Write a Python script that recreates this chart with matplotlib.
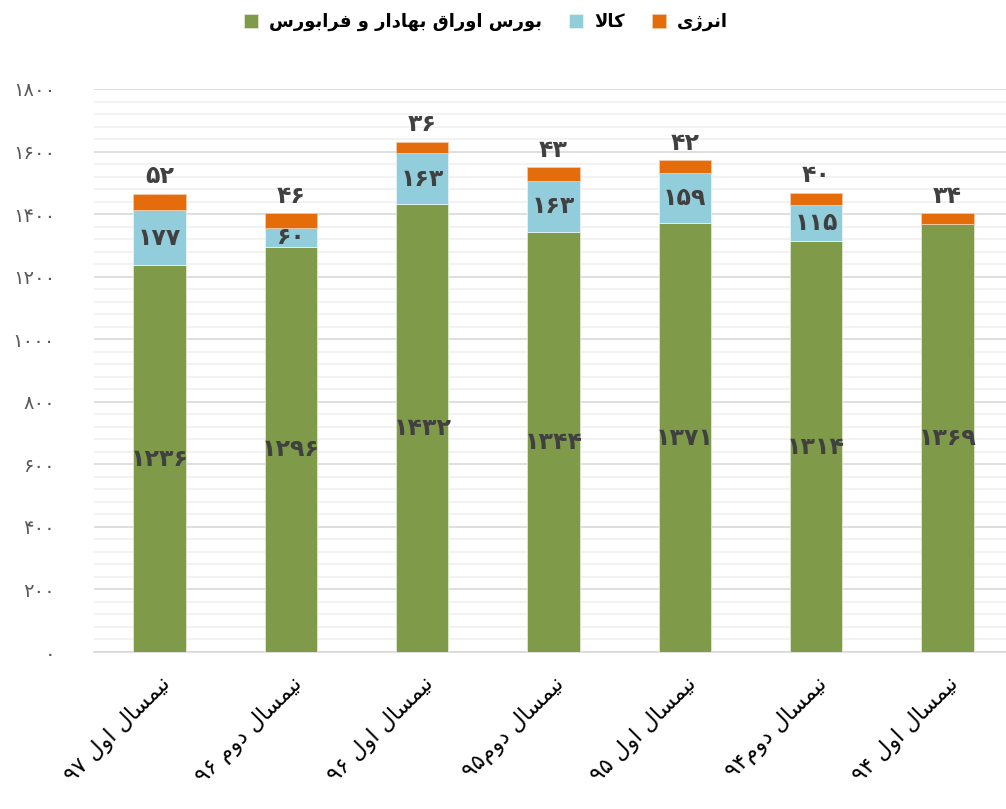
import re
import numpy as np
import matplotlib
matplotlib.use("Agg")
import matplotlib.pyplot as plt
from matplotlib.ticker import MultipleLocator

# data
categories = ['نیمسال اول ۹۷', 'نیمسال دوم ۹۶', 'نیمسال اول ۹۶', 'نیمسال دوم۹۵',
              'نیمسال اول ۹۵', 'نیمسال دوم۹۴', 'نیمسال اول ۹۴']
bourse = [1236, 1296, 1432, 1344, 1371, 1314, 1369]
kala = [177, 60, 163, 163, 159, 115, 0]
energy = [52, 46, 36, 43, 42, 40, 34]
series_names = ['بورس اوراق بهادار و فرابورس', 'کالا', 'انرژی']
yticks = list(range(0, 1801, 200))

# persian letter forms: isolated, final, initial, medial
FORMS = {
    'ا': ('\uFE8D', '\uFE8E', None, None),
    'ب': ('\uFE8F', '\uFE90', '\uFE91', '\uFE92'),
    'د': ('\uFEA9', '\uFEAA', None, None),
    'ر': ('\uFEAD', '\uFEAE', None, None),
    'ز': ('\uFEAF', '\uFEB0', None, None),
    'ژ': ('\uFB8A', '\uFB8B', None, None),
    'س': ('\uFEB1', '\uFEB2', '\uFEB3', '\uFEB4'),
    'ف': ('\uFED1', '\uFED2', '\uFED3', '\uFED4'),
    'ق': ('\uFED5', '\uFED6', '\uFED7', '\uFED8'),
    'ک': ('\uFB8E', '\uFB8F', '\uFB90', '\uFB91'),
    'ل': ('\uFEDD', '\uFEDE', '\uFEDF', '\uFEE0'),
    'م': ('\uFEE1', '\uFEE2', '\uFEE3', '\uFEE4'),
    'ن': ('\uFEE5', '\uFEE6', '\uFEE7', '\uFEE8'),
    'ه': ('\uFEE9', '\uFEEA', '\uFEEB', '\uFEEC'),
    'و': ('\uFEED', '\uFEEE', None, None),
    'ی': ('\uFBFC', '\uFBFD', '\uFBFE', '\uFBFF'),
}


def fa(text):
    # shape persian text and put it in visual (left to right) order
    text = text.replace('\u064a', '\u06cc').replace('\u0643', '\u06a9')
    out = []
    i = 0
    n = len(text)
    while i < n:
        c = text[i]
        if c not in FORMS:
            out.append(c)
            i += 1
            continue
        prev = text[i - 1] if i > 0 else ''
        p = prev in FORMS and FORMS[prev][2] is not None and not out[-1] in ('\uFEFB', '\uFEFC')
        if c == 'ل' and i + 1 < n and text[i + 1] == 'ا':
            out.append('\uFEFC' if p else '\uFEFB')
            i += 2
            continue
        nxt = text[i + 1] if i + 1 < n else ''
        nx = FORMS[c][2] is not None and nxt in FORMS
        iso, fin, ini, med = FORMS[c]
        out.append(med if (p and nx) else fin if p else ini if nx else iso)
        i += 1
    runs = re.findall(r'[0-9\u06f0-\u06f9]+|[^0-9\u06f0-\u06f9]', ''.join(out))
    return ''.join(reversed(runs))


def fa_num(v):
    return str(v).translate(str.maketrans('0123456789', '۰۱۲۳۴۵۶۷۸۹'))


plt.rcParams['font.family'] = ['DejaVu Sans']

green = '#7F9A48'
blue = '#92CDDC'
orange = '#E46C0A'
label_col = '#404040'

fig = plt.figure(figsize=(10.06, 8.09), dpi=100)
ax = fig.add_axes([94 / 1006, 157 / 809, 919 / 1006, 563 / 809])

x = np.arange(len(categories))
w = 0.40
b1 = ax.bar(x, bourse, w, color=green, edgecolor='#dfe8cf', linewidth=0.6, zorder=3)
b2 = ax.bar(x, kala, w, bottom=bourse, color=blue, edgecolor='#e6f3f7', linewidth=0.6, zorder=3)
bottom2 = np.array(bourse) + np.array(kala)
b3 = ax.bar(x, energy, w, bottom=bottom2, color=orange, edgecolor='#f5c9a6', linewidth=0.6, zorder=3)

# labels
for i in range(len(x)):
    ax.text(x[i], bourse[i] / 2, fa_num(bourse[i]), ha='center', va='center',
            fontsize=17, fontweight='bold', color=label_col, zorder=4)
    if kala[i] > 0:
        ax.text(x[i], bourse[i] + kala[i] / 2, fa_num(kala[i]), ha='center', va='center',
                fontsize=17, fontweight='bold', color=label_col, zorder=4)
    ax.annotate(fa_num(energy[i]), (x[i], bottom2[i] + energy[i]), xytext=(0, 4),
                textcoords='offset points', ha='center', va='bottom',
                fontsize=17, fontweight='bold', color=label_col, zorder=4)

ax.set_xlim(-0.5, len(x) - 0.5)
ax.set_ylim(0, 1800)
ax.set_yticks(yticks)
ax.set_yticklabels([fa_num(t) for t in yticks], fontsize=14, color='#595959')
ax.yaxis.set_minor_locator(MultipleLocator(40))
ax.grid(which='major', axis='y', color='#d9d9d9', linewidth=1.2, zorder=0)
ax.grid(which='minor', axis='y', color='#f0f0f0', linewidth=1.2, zorder=0)
ax.tick_params(axis='y', which='both', length=0, pad=28)
ax.tick_params(axis='x', length=0, pad=15)

ax.set_xticks(x)
ax.set_xticklabels([fa(c) for c in categories], rotation=45, ha='right', va='top',
                   rotation_mode='anchor', fontsize=16, color='black')

for s in ['top', 'right', 'left']:
    ax.spines[s].set_visible(False)
ax.spines['bottom'].set_color('#d9d9d9')
ax.spines['bottom'].set_linewidth(1.2)

leg = fig.legend([b1, b2, b3], [fa(s) for s in series_names], ncol=3, loc='center',
                 bbox_to_anchor=(486 / 1006, 1 - 22 / 809), frameon=False,
                 prop={'size': 13, 'weight': 'bold'}, handlelength=0.8, handleheight=0.8,
                 handletextpad=0.6, columnspacing=1.5)

fig.savefig('out.png', dpi=100)
